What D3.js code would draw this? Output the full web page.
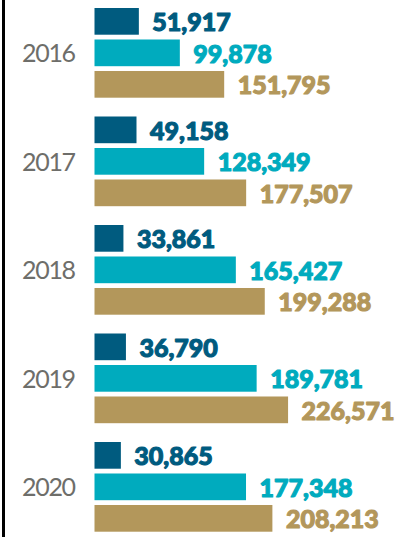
<!DOCTYPE html>
<html>
<head>
<meta charset="utf-8">
<script src="https://cdn.jsdelivr.net/npm/d3@7"></script>
<style>
  html, body { margin: 0; padding: 0; background: #fff; }
  svg { display: block; }
</style>
</head>
<body>
<div id="chart"></div>
<script>
// values
const years = ['2016', '2017', '2018', '2019', '2020'];
const seriesNames = ['a', 'b', 'c'];
const darkValues = [51917, 49158, 33861, 36790, 30865];
const cyanValues = [99878, 128349, 165427, 189781, 177348];
const tanValues = [151795, 177507, 199288, 226571, 208213];
const colors = ['#005b7f', '#00abbe', '#b3975b'];

const width = 397, height = 537;

const svg = d3.select('#chart')
  .append('svg')
  .attr('width', width)
  .attr('height', height);

// left rule
svg.append('line')
  .attr('x1', 3.5).attr('x2', 3.5)
  .attr('y1', 0).attr('y2', height)
  .attr('stroke', '#000')
  .attr('stroke-width', 3);

const x = d3.scaleLinear()
  .domain([0, 230000])
  .range([94.5, 291]);

const y = d3.scaleBand()
  .domain(years)
  .range([8, 550.5])
  .paddingInner(0);

const ySub = d3.scaleBand()
  .domain(seriesNames)
  .range([0, 89.7])
  .paddingInner(0.152)
  .paddingOuter(0);

const rows = years.map((yr, i) => ({
  year: yr,
  vals: [darkValues[i], cyanValues[i], tanValues[i]]
}));

const g = svg.selectAll('.group')
  .data(rows)
  .enter().append('g')
  .attr('class', 'group')
  .attr('transform', d => 'translate(0,' + y(d.year) + ')');

// year label, centred on the middle bar
g.append('text')
  .attr('x', 22)
  .attr('y', ySub('b') + ySub.bandwidth() / 2)
  .attr('dy', '0.37em')
  .attr('font-family', 'Lato, sans-serif')
  .attr('font-weight', 400)
  .attr('font-size', '25px')
  .attr('letter-spacing', '-1.3px')
  .attr('fill', '#6e6e6a')
  .text(d => d.year);

const bars = g.selectAll('.bar')
  .data(d => d.vals.map((v, j) => ({ key: seriesNames[j], value: v, color: colors[j] })))
  .enter();

bars.append('rect')
  .attr('class', 'bar')
  .attr('x', x(0))
  .attr('y', d => ySub(d.key))
  .attr('width', d => x(d.value) - x(0))
  .attr('height', ySub.bandwidth())
  .attr('fill', d => d.color);

// values: heavy weight, thickened with a stroke in the same colour
bars.append('text')
  .attr('x', d => x(d.value) + 13.5)
  .attr('y', d => ySub(d.key) + ySub.bandwidth() / 2)
  .attr('dy', '0.4em')
  .attr('font-family', 'Lato, sans-serif')
  .attr('font-weight', 900)
  .attr('font-size', '25px')
  .attr('fill', d => d.color)
  .attr('stroke', d => d.color)
  .attr('stroke-width', 1.1)
  .attr('stroke-linejoin', 'round')
  .text(d => d3.format(',')(d.value));
</script>
</body>
</html>
